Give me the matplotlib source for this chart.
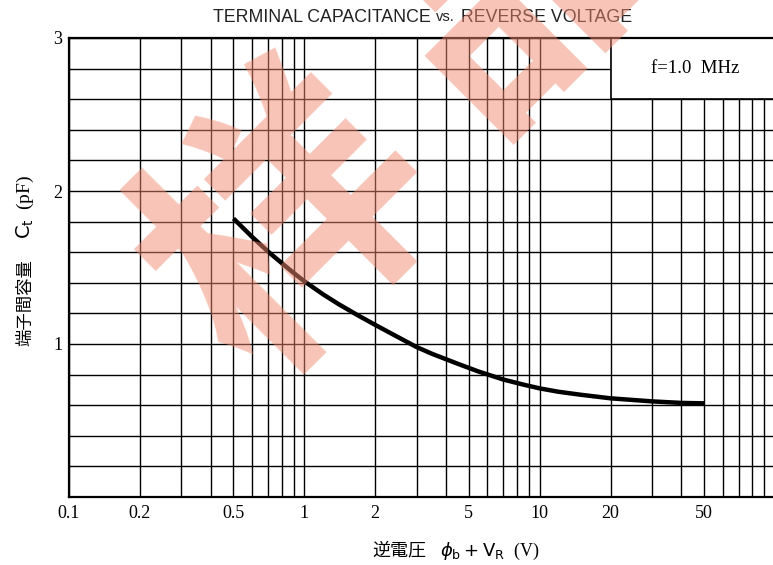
import matplotlib.pyplot as plt
from matplotlib.patches import Rectangle
import numpy as np

# data
voltage = [0.5, 0.6, 0.7, 0.8, 0.9, 1.0, 1.2, 1.4, 1.7, 2, 2.5, 3, 3.5, 4.5,
           5.5, 7, 8.5, 10, 12, 15, 20, 30, 40, 50]
capacitance = [1.82, 1.70, 1.605, 1.53, 1.465, 1.41, 1.325, 1.26, 1.185, 1.125, 1.045, 0.98, 0.935, 0.87,
               0.82, 0.768, 0.735, 0.71, 0.688, 0.668, 0.645, 0.625, 0.615, 0.612]
x_ticks = [0.1, 0.2, 0.5, 1, 2, 5, 10, 20, 50]
x_tick_labels = ["0.1", "0.2", "0.5", "1", "2", "5", "10", "20", "50"]
y_ticks = [1, 2, 3]
y_tick_labels = ["1", "2", "3"]

serif = ["Liberation Serif", "Noto Sans CJK JP"]
cjk = ["Noto Sans CJK JP", "DejaVu Sans"]

fig = plt.figure(figsize=(7.73, 5.65), dpi=100)
ax = fig.add_axes([69 / 773, 68 / 565, 706 / 773, 459 / 565])

# grid (major + minor, log x)
ax.set_xscale("log")
ax.set_xlim(0.1, 100)
ax.set_ylim(0, 3)
minor_x = [m * 10.0 ** e for e in range(-1, 2) for m in range(1, 10)]
ax.set_xticks(minor_x, minor=True)
ax.set_xticks(x_ticks)
ax.set_xticklabels(x_tick_labels, fontfamily=serif, fontsize=13)
ax.set_yticks(np.arange(0, 3.01, 0.2), minor=True)
ax.set_yticks(y_ticks)
ax.set_yticklabels(y_tick_labels, fontfamily=serif, fontsize=13)
ax.xaxis.set_minor_formatter(plt.NullFormatter())
ax.tick_params(which="both", length=0)
ax.tick_params(axis="x", pad=6)
ax.tick_params(axis="y", pad=5)
ax.grid(which="both", color="black", linewidth=1.0)
ax.set_axisbelow(True)
for sp in ax.spines.values():
    sp.set_linewidth(1.6)

# condition box
ax.add_patch(Rectangle((20, 2.6), 100, 0.4, facecolor="white", edgecolor="black",
                       linewidth=1.2, zorder=2))
ax.text(46, 2.8, "f=1.0  MHz", fontfamily=serif, fontsize=13.5,
        ha="center", va="center", zorder=3)

ax.plot(voltage, capacitance, color="black", linewidth=3.2, zorder=4,
        solid_capstyle="butt", solid_joinstyle="round")

# titles and axis labels
fig.text(436 / 773, 1 - 17 / 565, "TERMINAL CAPACITANCE ", fontfamily="Liberation Sans",
         fontsize=12.8, ha="right", va="center", color="#222222")
fig.text(436 / 773, 1 - 17 / 565, "vs.", fontfamily="Liberation Sans",
         fontsize=10.5, ha="left", va="center", color="#222222")
fig.text(456 / 773, 1 - 17 / 565, " REVERSE VOLTAGE", fontfamily="Liberation Sans",
         fontsize=12.8, ha="left", va="center", color="#222222")

fig.text(426 / 773, 1 - 550 / 565, "逆電圧", fontfamily=cjk, fontsize=13,
         ha="right", va="center")
fig.text(440 / 773, 1 - 551 / 565, r"$\phi_{\rm b}+{\rm V_R}$  (V)", fontsize=13,
         ha="left", va="center", fontfamily=serif)

fig.text(25 / 773, 1 - 303 / 565, "端子間容量", fontfamily=cjk, fontsize=12.5,
         rotation=90, ha="center", va="center")
fig.text(25 / 773, 1 - 207 / 565, r"${\rm C_t}$  (pF)", fontfamily=serif, fontsize=14,
         rotation=90, ha="center", va="center")

# watermark
for ch, px, py in [("样", 295, 228), ("品", 518, -28)]:
    fig.text(px / 773, 1 - py / 565, ch, fontfamily=["Noto Sans CJK SC"], fontweight="heavy",
             fontsize=200, rotation=45, rotation_mode="anchor", ha="center", va="center",
             color="#f08a70", alpha=0.5, zorder=10)

fig.savefig("out.png", dpi=100)
